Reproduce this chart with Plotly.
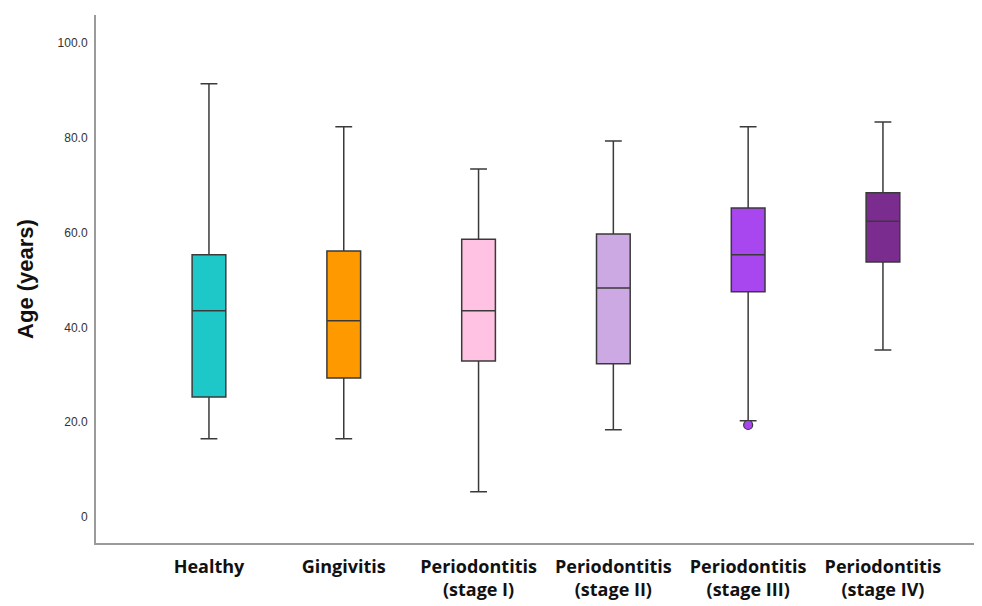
import plotly.graph_objects as go

categories = ["<b>Healthy</b>", "<b>Gingivitis</b>", "<b>Periodontitis<br>(stage I)</b>",
              "<b>Periodontitis<br>(stage II)</b>", "<b>Periodontitis<br>(stage III)</b>",
              "<b>Periodontitis<br>(stage IV)</b>"]
lower_whisker = [16.5, 16.5, 5.3, 18.4, 20.3, 35.2]
q1_values = [25.3, 29.3, 32.9, 32.3, 47.5, 53.8]
median_values = [43.5, 41.4, 43.5, 48.3, 55.3, 62.4]
q3_values = [55.3, 56.1, 58.6, 59.7, 65.2, 68.4]
upper_whisker = [91.4, 82.3, 73.4, 79.3, 82.3, 83.3]
fill_colors = ["#1FC8C8", "#FF9900", "#FFC2E2", "#CDA9E3", "#A846F0", "#7B2D8F"]
outlier_category = [categories[4]]
outlier_values = [19.4]
outlier_color = "#A846F0"

tick_vals = [0, 20, 40, 60, 80, 100]
tick_text = ["0", "20.0", "40.0", "60.0", "80.0", "100.0"]

fig = go.Figure()
for i, cat in enumerate(categories):
    fig.add_trace(go.Box(
        x=[cat],
        q1=[q1_values[i]], median=[median_values[i]], q3=[q3_values[i]],
        lowerfence=[lower_whisker[i]], upperfence=[upper_whisker[i]],
        fillcolor=fill_colors[i],
        line=dict(color="#3a3a3a", width=1.5),
        width=0.25, whiskerwidth=0.5,
        boxpoints=False, showlegend=False, hoverinfo="skip",
    ))

fig.add_trace(go.Scatter(
    x=outlier_category, y=outlier_values, mode="markers",
    marker=dict(size=9, color=outlier_color, line=dict(color="#3a3a3a", width=1.2)),
    showlegend=False,
))

fig.update_layout(
    width=982, height=606,
    margin=dict(l=88, r=10, t=7, b=71),
    paper_bgcolor="white", plot_bgcolor="white",
    font=dict(family="Arial, Liberation Sans, sans-serif", color="#222"),
)
fig.update_xaxes(
    range=[-0.838, 5.72], showgrid=False, zeroline=False, automargin=False,
    showline=True, linecolor="#9a9a9a", linewidth=2,
    ticks="", tickfont=dict(family="Open Sans, sans-serif", size=18, color="#111"),
    ticklabelstandoff=6,
)
fig.update_yaxes(
    range=[-5.5, 105.9], showgrid=False, zeroline=False, automargin=False,
    showline=True, linecolor="#9a9a9a", linewidth=2,
    tickvals=tick_vals, ticktext=tick_text, ticks="",
    tickfont=dict(family="Arial, Liberation Sans, sans-serif", size=12, color="#333"),
    ticklabelstandoff=4,
    title=dict(text="<b>Age (years)</b>", font=dict(family="Arial, Liberation Sans, sans-serif", size=22, color="#111"), standoff=18),
)

fig.write_html("out.html")
